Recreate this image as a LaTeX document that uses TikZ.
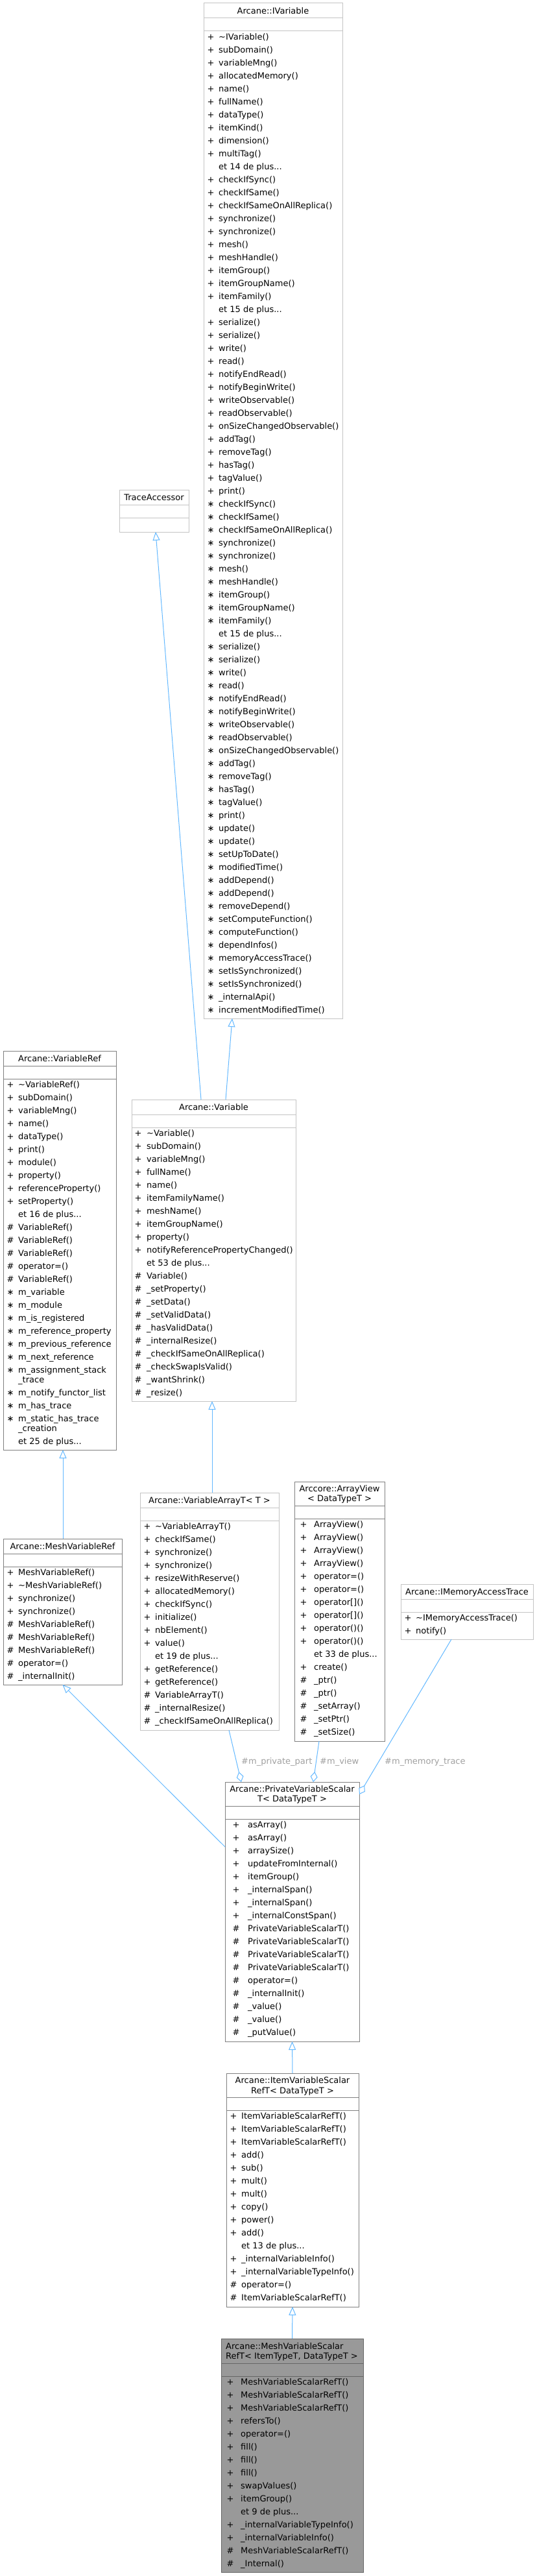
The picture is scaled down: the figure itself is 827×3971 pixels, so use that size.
\documentclass[tikz,border=0pt]{standalone}
\usepackage{fontspec}
\setmainfont{DejaVu Sans}
\usetikzlibrary{arrows.meta}
\definecolor{edgeblue}{HTML}{63B8FF}
\definecolor{bdark}{HTML}{808080}
\definecolor{blight}{HTML}{C4C4C4}
\definecolor{curfill}{HTML}{999999}
\definecolor{curbord}{HTML}{666666}
\definecolor{lblgray}{HTML}{A0A0A0}
\newcommand\dfont{\fontsize{13}{15}\selectfont}
\tikzset{
  clsdark/.style={draw=bdark, fill=white, line width=1pt, inner sep=0pt, outer sep=0pt},
  clslight/.style={draw=blight, fill=white, line width=1pt, inner sep=0pt, outer sep=0pt},
  clscur/.style={draw=curbord, fill=curfill, line width=1pt, inner sep=0pt, outer sep=0pt},
  ttl/.style={font=\dfont, inner sep=0pt, anchor=base},
  ttlw/.style={font=\dfont, inner sep=0pt, anchor=base west},
  mrk/.style={font=\dfont, inner sep=0pt, anchor=base},
  itm/.style={font=\dfont, inner sep=0pt, anchor=base west},
  inh/.style={draw=edgeblue, line width=1pt, -{Triangle[length=13pt,width=11pt,fill=white]}},
  agg/.style={draw=edgeblue, line width=1pt, -{Diamond[length=16pt,width=11pt,fill=white]}},
  lbl/.style={font=\dfont, text=lblgray, inner sep=0pt, anchor=base west},
}
% #1 name, #2 style, #3 sep colour, #4 x1, #5 y1, #6 x2, #7 y2, #8 title height
\newcommand\clsbox[8]{%
  \node[#2, anchor=north west, minimum width={#6-#4}, minimum height={#7-#5}] (#1) at (#4,#5) {};
  \draw[draw=#3, line width=1pt] (#4,#5+#8) -- (#6,#5+#8);
  \draw[draw=#3, line width=1pt] (#4,#5+#8+20) -- (#6,#5+#8+20);
}
% #1 prefix, #2 marker x, #3 name x, #4 first centre y, #5 list
\newcommand\itemlist[5]{%
  \foreach \mk/\tx [count=\i from 0] in {#5}{%
    \node[mrk] (#1-m\i) at (#2,#4+20*\i+4.5) {\mk};
    \node[itm] (#1-t\i) at (#3,#4+20*\i+4.5) {\tx};
  }%
}
\begin{document}
\begin{tikzpicture}[x=1pt,y=-1pt]
\useasboundingbox (0,0) rectangle (827,3971);

% ---------- Arcane::IVariable
\clsbox{ivar}{clslight}{blight}{314}{5}{528}{1570}{23}
\node[ttl] (ivar-title) at (421,21.5) {Arcane::IVariable};
\itemlist{ivar}{325}{337}{57}{
{+}/{\textasciitilde IVariable()},{+}/{subDomain()},{+}/{variableMng()},{+}/{allocatedMemory()},
{+}/{name()},{+}/{fullName()},{+}/{dataType()},{+}/{itemKind()},{+}/{dimension()},{+}/{multiTag()},
{}/{et 14 de plus...},
{+}/{checkIfSync()},{+}/{checkIfSame()},{+}/{checkIfSameOnAllReplica()},{+}/{synchronize()},
{+}/{synchronize()},{+}/{mesh()},{+}/{meshHandle()},{+}/{itemGroup()},{+}/{itemGroupName()},
{+}/{itemFamily()},{}/{et 15 de plus...},
{+}/{serialize()},{+}/{serialize()},{+}/{write()},{+}/{read()},{+}/{notifyEndRead()},
{+}/{notifyBeginWrite()},{+}/{writeObservable()},{+}/{readObservable()},
{+}/{onSizeChangedObservable()},{+}/{addTag()},{+}/{removeTag()},{+}/{hasTag()},
{+}/{tagValue()},{+}/{print()},
{∗}/{checkIfSync()},{∗}/{checkIfSame()},{∗}/{checkIfSameOnAllReplica()},{∗}/{synchronize()},
{∗}/{synchronize()},{∗}/{mesh()},{∗}/{meshHandle()},{∗}/{itemGroup()},{∗}/{itemGroupName()},
{∗}/{itemFamily()},{}/{et 15 de plus...},
{∗}/{serialize()},{∗}/{serialize()},{∗}/{write()},{∗}/{read()},{∗}/{notifyEndRead()},
{∗}/{notifyBeginWrite()},{∗}/{writeObservable()},{∗}/{readObservable()},
{∗}/{onSizeChangedObservable()},{∗}/{addTag()},{∗}/{removeTag()},{∗}/{hasTag()},
{∗}/{tagValue()},{∗}/{print()},{∗}/{update()},{∗}/{update()},{∗}/{setUpToDate()},
{∗}/{modifiedTime()},{∗}/{addDepend()},{∗}/{addDepend()},{∗}/{removeDepend()},
{∗}/{setComputeFunction()},{∗}/{computeFunction()},{∗}/{dependInfos()},
{∗}/{memoryAccessTrace()},{∗}/{setIsSynchronized()},{∗}/{setIsSynchronized()},
{∗}/{\_internalApi()},{∗}/{incrementModifiedTime()}}

% ---------- TraceAccessor
\clsbox{trace}{clslight}{blight}{184}{755}{291}{820}{23}
\node[ttl] (trace-title) at (237.5,771.5) {TraceAccessor};

% ---------- Arcane::Variable
\clsbox{var}{clslight}{blight}{203}{1695}{456}{2160}{23}
\node[ttl] (var-title) at (329.5,1711.5) {Arcane::Variable};
\itemlist{var}{213}{226}{1747}{
{+}/{\textasciitilde Variable()},{+}/{subDomain()},{+}/{variableMng()},{+}/{fullName()},
{+}/{name()},{+}/{itemFamilyName()},{+}/{meshName()},{+}/{itemGroupName()},{+}/{property()},
{+}/{notifyReferencePropertyChanged()},{}/{et 53 de plus...},
{\#}/{Variable()},{\#}/{\_setProperty()},{\#}/{\_setData()},{\#}/{\_setValidData()},
{\#}/{\_hasValidData()},{\#}/{\_internalResize()},{\#}/{\_checkIfSameOnAllReplica()},
{\#}/{\_checkSwapIsValid()},{\#}/{\_wantShrink()},{\#}/{\_resize()}}

% ---------- Arcane::VariableRef
\clsbox{vref}{clsdark}{bdark}{5}{1620}{179}{2235}{23}
\node[ttl] (vref-title) at (92,1636.5) {Arcane::VariableRef};
\itemlist{vref}{16}{28}{1672}{
{+}/{\textasciitilde VariableRef()},{+}/{subDomain()},{+}/{variableMng()},{+}/{name()},
{+}/{dataType()},{+}/{print()},{+}/{module()},{+}/{property()},{+}/{referenceProperty()},
{+}/{setProperty()},{}/{et 16 de plus...},
{\#}/{VariableRef()},{\#}/{VariableRef()},{\#}/{VariableRef()},{\#}/{operator=()},
{\#}/{VariableRef()},
{∗}/{m\_variable},{∗}/{m\_module},{∗}/{m\_is\_registered},{∗}/{m\_reference\_property},
{∗}/{m\_previous\_reference},{∗}/{m\_next\_reference},{∗}/{m\_assignment\_stack}}
\node[itm] (vref-w1) at (28,2131.5) {\_trace};
\node[mrk] (vref-m23) at (16,2151.5) {∗};
\node[itm] (vref-t23) at (28,2151.5) {m\_notify\_functor\_list};
\node[mrk] (vref-m24) at (16,2171.5) {∗};
\node[itm] (vref-t24) at (28,2171.5) {m\_has\_trace};
\node[mrk] (vref-m25) at (16,2191.5) {∗};
\node[itm] (vref-t25) at (28,2191.5) {m\_static\_has\_trace};
\node[itm] (vref-w2) at (28,2206.5) {\_creation};
\node[itm] (vref-t26) at (28,2226.5) {et 25 de plus...};

% ---------- Arcane::MeshVariableRef
\clsbox{mvref}{clsdark}{bdark}{5}{2372}{188}{2597}{23}
\node[ttl] (mvref-title) at (96.5,2388.5) {Arcane::MeshVariableRef};
\itemlist{mvref}{16}{28}{2424}{
{+}/{MeshVariableRef()},{+}/{\textasciitilde MeshVariableRef()},{+}/{synchronize()},
{+}/{synchronize()},{\#}/{MeshVariableRef()},{\#}/{MeshVariableRef()},{\#}/{MeshVariableRef()},
{\#}/{operator=()},{\#}/{\_internalInit()}}

% ---------- Arcane::VariableArrayT< T >
\clsbox{varr}{clslight}{blight}{216}{2301}{430}{2667}{23}
\node[ttl] (varr-title) at (323,2317.5) {Arcane::VariableArrayT< T >};
\itemlist{varr}{227}{239}{2353}{
{+}/{\textasciitilde VariableArrayT()},{+}/{checkIfSame()},{+}/{synchronize()},{+}/{synchronize()},
{+}/{resizeWithReserve()},{+}/{allocatedMemory()},{+}/{checkIfSync()},{+}/{initialize()},
{+}/{nbElement()},{+}/{value()},{}/{et 19 de plus...},{+}/{getReference()},{+}/{getReference()},
{\#}/{VariableArrayT()},{\#}/{\_internalResize()},{\#}/{\_checkIfSameOnAllReplica()}}

% ---------- Arccore::ArrayView< DataTypeT >
\clsbox{aview}{clsdark}{bdark}{454}{2284}{593}{2684}{37}
\node[ttl] (aview-title1) at (523.5,2299.5) {Arccore::ArrayView};
\node[ttl] (aview-title2) at (523.5,2314.5) {< DataTypeT >};
\itemlist{aview}{468}{484}{2350}{
{+}/{ArrayView()},{+}/{ArrayView()},{+}/{ArrayView()},{+}/{ArrayView()},
{+}/{operator=()},{+}/{operator=()},{+}/{operator[]()},{+}/{operator[]()},
{+}/{operator()()},{+}/{operator()()},{}/{et 33 de plus...},{+}/{create()},
{\#}/{\_ptr()},{\#}/{\_ptr()},{\#}/{\_setArray()},{\#}/{\_setPtr()},{\#}/{\_setSize()}}

% ---------- Arcane::IMemoryAccessTrace
\clsbox{imat}{clslight}{blight}{618}{2442}{822}{2527}{23}
\node[ttl] (imat-title) at (720,2458.5) {Arcane::IMemoryAccessTrace};
\itemlist{imat}{629}{641}{2494}{
{+}/{\textasciitilde IMemoryAccessTrace()},{+}/{notify()}}

% ---------- Arcane::PrivateVariableScalarT< DataTypeT >
\clsbox{pvs}{clsdark}{bdark}{347}{2747}{554}{3147}{37}
\node[ttl] (pvs-title1) at (450.5,2762.5) {Arcane::PrivateVariableScalar};
\node[ttl] (pvs-title2) at (450.5,2777.5) {T< DataTypeT >};
\itemlist{pvs}{364}{382}{2813}{
{+}/{asArray()},{+}/{asArray()},{+}/{arraySize()},{+}/{updateFromInternal()},{+}/{itemGroup()},
{+}/{\_internalSpan()},{+}/{\_internalSpan()},{+}/{\_internalConstSpan()},
{\#}/{PrivateVariableScalarT()},{\#}/{PrivateVariableScalarT()},{\#}/{PrivateVariableScalarT()},
{\#}/{PrivateVariableScalarT()},{\#}/{operator=()},{\#}/{\_internalInit()},{\#}/{\_value()},
{\#}/{\_value()},{\#}/{\_putValue()}}

% ---------- Arcane::ItemVariableScalarRefT< DataTypeT >
\clsbox{isr}{clsdark}{bdark}{349}{3196}{553}{3556}{37}
\node[ttl] (isr-title1) at (451,3211.5) {Arcane::ItemVariableScalar};
\node[ttl] (isr-title2) at (451,3227.5) {RefT< DataTypeT >};
\itemlist{isr}{360}{372}{3262}{
{+}/{ItemVariableScalarRefT()},{+}/{ItemVariableScalarRefT()},{+}/{ItemVariableScalarRefT()},
{+}/{add()},{+}/{sub()},{+}/{mult()},{+}/{mult()},{+}/{copy()},{+}/{power()},{+}/{add()},
{}/{et 13 de plus...},{+}/{\_internalVariableInfo()},{+}/{\_internalVariableTypeInfo()},
{\#}/{operator=()},{\#}/{ItemVariableScalarRefT()}}

% ---------- Arcane::MeshVariableScalarRefT< ItemTypeT, DataTypeT >
\clsbox{mvsr}{clscur}{curbord}{341}{3605}{560}{3965}{38}
\node[ttlw] (mvsr-title1) at (348,3621.5) {Arcane::MeshVariableScalar};
\node[ttlw] (mvsr-title2) at (348,3636.5) {RefT< ItemTypeT, DataTypeT >};
\itemlist{mvsr}{355}{371}{3672}{
{+}/{MeshVariableScalarRefT()},{+}/{MeshVariableScalarRefT()},{+}/{MeshVariableScalarRefT()},
{+}/{refersTo()},{+}/{operator=()},{+}/{fill()},{+}/{fill()},{+}/{fill()},{+}/{swapValues()},
{+}/{itemGroup()},{}/{et 9 de plus...},{+}/{\_internalVariableTypeInfo()},
{+}/{\_internalVariableInfo()},{\#}/{MeshVariableScalarRefT()},{\#}/{\_Internal()}}

% ---------- inheritance edges
\draw[inh] ([xshift=18.5]var.north) -- ([xshift=-63]ivar.south);
\draw[inh] ([xshift=-19.5]var.north) -- ([xshift=2.5]trace.south);
\draw[inh] ([xshift=4]varr.north) -- ([xshift=-2.5]var.south);
\draw[inh] ([xshift=0.5]mvref.north) -- ([xshift=5]vref.south);
\draw[inh] ([yshift=-100]pvs.north west) -- (mvref.south);
\draw[inh] (isr.north) -- (pvs.south);
\draw[inh] (mvsr.north) -- (isr.south);

% ---------- aggregation edges
\draw[agg] ([xshift=30]varr.south) -- ([xshift=-78.5]pvs.north);
\draw[agg] ([xshift=-31.5]aview.south) -- ([xshift=32.5]pvs.north);
\draw[agg] ([xshift=-24]imat.south) -- ([yshift=-19]pvs.north east);
\node[lbl] (lbl-priv) at (372,2719.5) {\#m\_private\_part};
\node[lbl] (lbl-view) at (493,2719.5) {\#m\_view};
\node[lbl] (lbl-mem) at (593,2719.5) {\#m\_memory\_trace};
\end{tikzpicture}
\end{document}
